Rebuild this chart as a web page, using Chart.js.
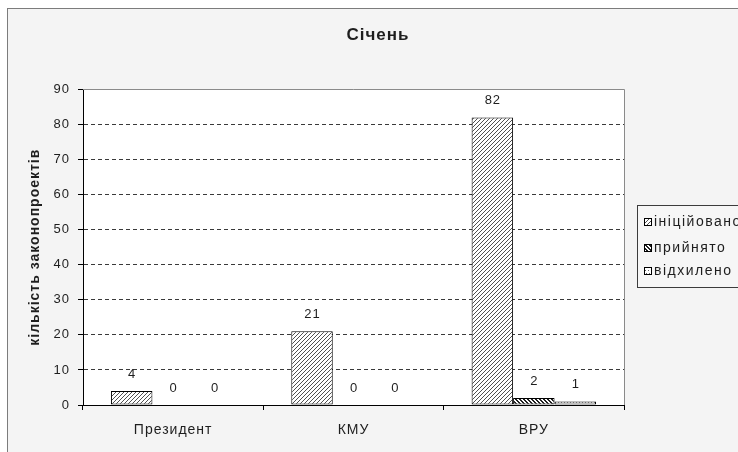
<!DOCTYPE html>
<html>
<head>
<meta charset="utf-8">
<script src="https://cdn.jsdelivr.net/npm/chart.js@4.4.0/dist/chart.umd.min.js"></script>
<style>
  html, body { margin: 0; padding: 0; background: #ffffff; }
  #wrap { width: 738px; height: 452px; }
</style>
</head>
<body>
<div id="wrap"><canvas id="chart" width="738" height="452"></canvas></div>
<script>
// data
var categories = ['Президент', 'КМУ', 'ВРУ'];
var seriesNames = ['ініційовано', 'прийнято', 'відхилено'];
var initiated = [4, 21, 82];
var adopted = [0, 0, 2];
var rejected = [0, 0, 1];
var yMin = 0, yMax = 90, yStep = 10;

var FONT = '"Liberation Sans", Arial, sans-serif';
var TEXT = '#1e1e1e';

// hatch patterns similar to the old Excel fills
function makePattern(size, bg, fg, test) {
  var c = document.createElement('canvas');
  c.width = size; c.height = size;
  var g = c.getContext('2d');
  g.fillStyle = bg;
  g.fillRect(0, 0, size, size);
  g.fillStyle = fg;
  for (var y = 0; y < size; y++) {
    for (var x = 0; x < size; x++) {
      if (test(x, y)) g.fillRect(x, y, 1, 1);
    }
  }
  return document.getElementById('chart').getContext('2d').createPattern(c, 'repeat');
}

var patUp = makePattern(4, '#ffffff', '#505050', function (x, y) { return (x + y) % 4 === 3; });
var patDown = makePattern(4, '#ffffff', '#202020', function (x, y) { return ((x - y) % 4 + 4) % 4 < 2; });
var patDots = makePattern(6, '#ffffff', '#606060', function (x, y) {
  return (y === 0 && x % 3 === 0) || (y === 3 && x % 3 === 1);
});
var patterns = [patUp, patDown, patDots];

// the Excel export renders text a bit wider; canvas resizes reset this, so set it each pass
function widenText(chart) { chart.ctx.letterSpacing = '1px'; }

var backgroundPlugin = {
  id: 'frameBg',
  beforeUpdate: widenText,
  beforeLayout: widenText,
  beforeDraw: function (chart) {
    widenText(chart);
    var ctx = chart.ctx, a = chart.chartArea;
    ctx.save();
    ctx.fillStyle = '#ffffff';
    ctx.fillRect(0, 0, chart.width, chart.height);
    ctx.fillStyle = '#f4f4f4';
    ctx.fillRect(7, 8, chart.width, chart.height);
    ctx.strokeStyle = '#7c7c7c';
    ctx.lineWidth = 1;
    ctx.strokeRect(7.5, 8.5, chart.width + 10, chart.height + 10);
    ctx.fillStyle = '#ffffff';
    ctx.fillRect(a.left, a.top, a.right - a.left, a.bottom - a.top);
    ctx.restore();
  },
  afterDraw: function (chart) {
    var ctx = chart.ctx, a = chart.chartArea;
    ctx.save();
    // plot area top + right edge
    ctx.strokeStyle = '#8a8a8a';
    ctx.lineWidth = 1;
    ctx.beginPath();
    ctx.moveTo(a.left, Math.round(a.top) + 0.5);
    ctx.lineTo(Math.round(a.right) + 0.5, Math.round(a.top) + 0.5);
    ctx.lineTo(Math.round(a.right) + 0.5, a.bottom);
    ctx.stroke();

    // legend box
    ctx.fillStyle = '#f6f6f6';
    ctx.fillRect(637, 205, 120, 82);
    ctx.strokeStyle = '#3c3c3c';
    ctx.strokeRect(637.5, 205.5, 120, 82);
    var rows = [222, 248, 271];
    ctx.font = '14px ' + FONT;
    ctx.letterSpacing = '1.5px';
    ctx.textBaseline = 'middle';
    ctx.textAlign = 'left';
    for (var i = 0; i < seriesNames.length; i++) {
      ctx.fillStyle = patterns[i];
      ctx.fillRect(644, rows[i] - 4, 7, 7);
      ctx.strokeStyle = '#000000';
      ctx.strokeRect(644.5, rows[i] - 3.5, 7, 7);
      ctx.fillStyle = TEXT;
      ctx.fillText(seriesNames[i], 654, rows[i]);
    }
    ctx.restore();
  }
};

var valueLabels = {
  id: 'valueLabels',
  afterDatasetsDraw: function (chart) {
    var ctx = chart.ctx;
    ctx.save();
    ctx.font = '13px ' + FONT;
    ctx.fillStyle = TEXT;
    ctx.textAlign = 'center';
    ctx.textBaseline = 'middle';
    chart.data.datasets.forEach(function (ds, di) {
      chart.getDatasetMeta(di).data.forEach(function (bar, i) {
        ctx.fillText(String(ds.data[i]), bar.x + 0.5, bar.y - 17);
      });
    });
    ctx.restore();
  }
};

function makeDataset(label, values, idx) {
  return {
    label: label,
    data: values,
    yAxisID: 'y',
    backgroundColor: patterns[idx],
    borderColor: '#000000',
    borderWidth: function (c) { return c.raw === 0 ? 0 : 1; },
    borderSkipped: false,
    categoryPercentage: 0.69,
    barPercentage: 1.0
  };
}

new Chart(document.getElementById('chart'), {
  type: 'bar',
  data: {
    labels: categories,
    datasets: [
      makeDataset(seriesNames[0], initiated, 0),
      makeDataset(seriesNames[1], adopted, 1),
      makeDataset(seriesNames[2], rejected, 2)
    ]
  },
  options: {
    responsive: false,
    animation: false,
    devicePixelRatio: 1,
    layout: { padding: { left: 18, right: 0, top: 0, bottom: 0 } },
    plugins: {
      legend: { display: false },
      tooltip: { enabled: false },
      title: {
        display: true,
        text: 'Січень',
        color: TEXT,
        font: { family: FONT, size: 17, weight: 'bold' },
        padding: { top: 25, bottom: 44 }
      }
    },
    scales: {
      x: {
        afterFit: function (s) { s.height = 47; },
        grid: {
          offset: true,
          drawOnChartArea: false,
          tickLength: 5,
          tickColor: '#000000'
        },
        border: { color: '#000000' },
        ticks: { color: TEXT, font: { family: FONT, size: 14 }, padding: 12 }
      },
      y: {
        min: yMin,
        max: yMax,
        afterFit: function (s) { s.width = 65; },
        ticks: { stepSize: yStep, color: TEXT, font: { family: FONT, size: 13 }, padding: 8 },
        grid: {
          color: function (c) {
            var v = c.tick && c.tick.value;
            return (v === yMin || v === yMax) ? 'rgba(0,0,0,0)' : '#3a3a3a';
          },
          tickColor: '#000000',
          tickLength: 5
        },
        border: { color: '#000000', dash: [4, 3] },
        title: {
          display: true,
          text: 'кількість законопроектів',
          color: TEXT,
          padding: { top: 9, bottom: 0 },
          font: { family: FONT, size: 14, weight: 'bold' }
        }
      },
      // empty right-hand axis that reserves room for the legend
      yLegend: {
        position: 'right',
        display: true,
        afterFit: function (s) { s.width = 114; },
        grid: { display: false },
        border: { display: false },
        ticks: { display: false }
      }
    }
  },
  plugins: [backgroundPlugin, valueLabels]
});
</script>
</body>
</html>
